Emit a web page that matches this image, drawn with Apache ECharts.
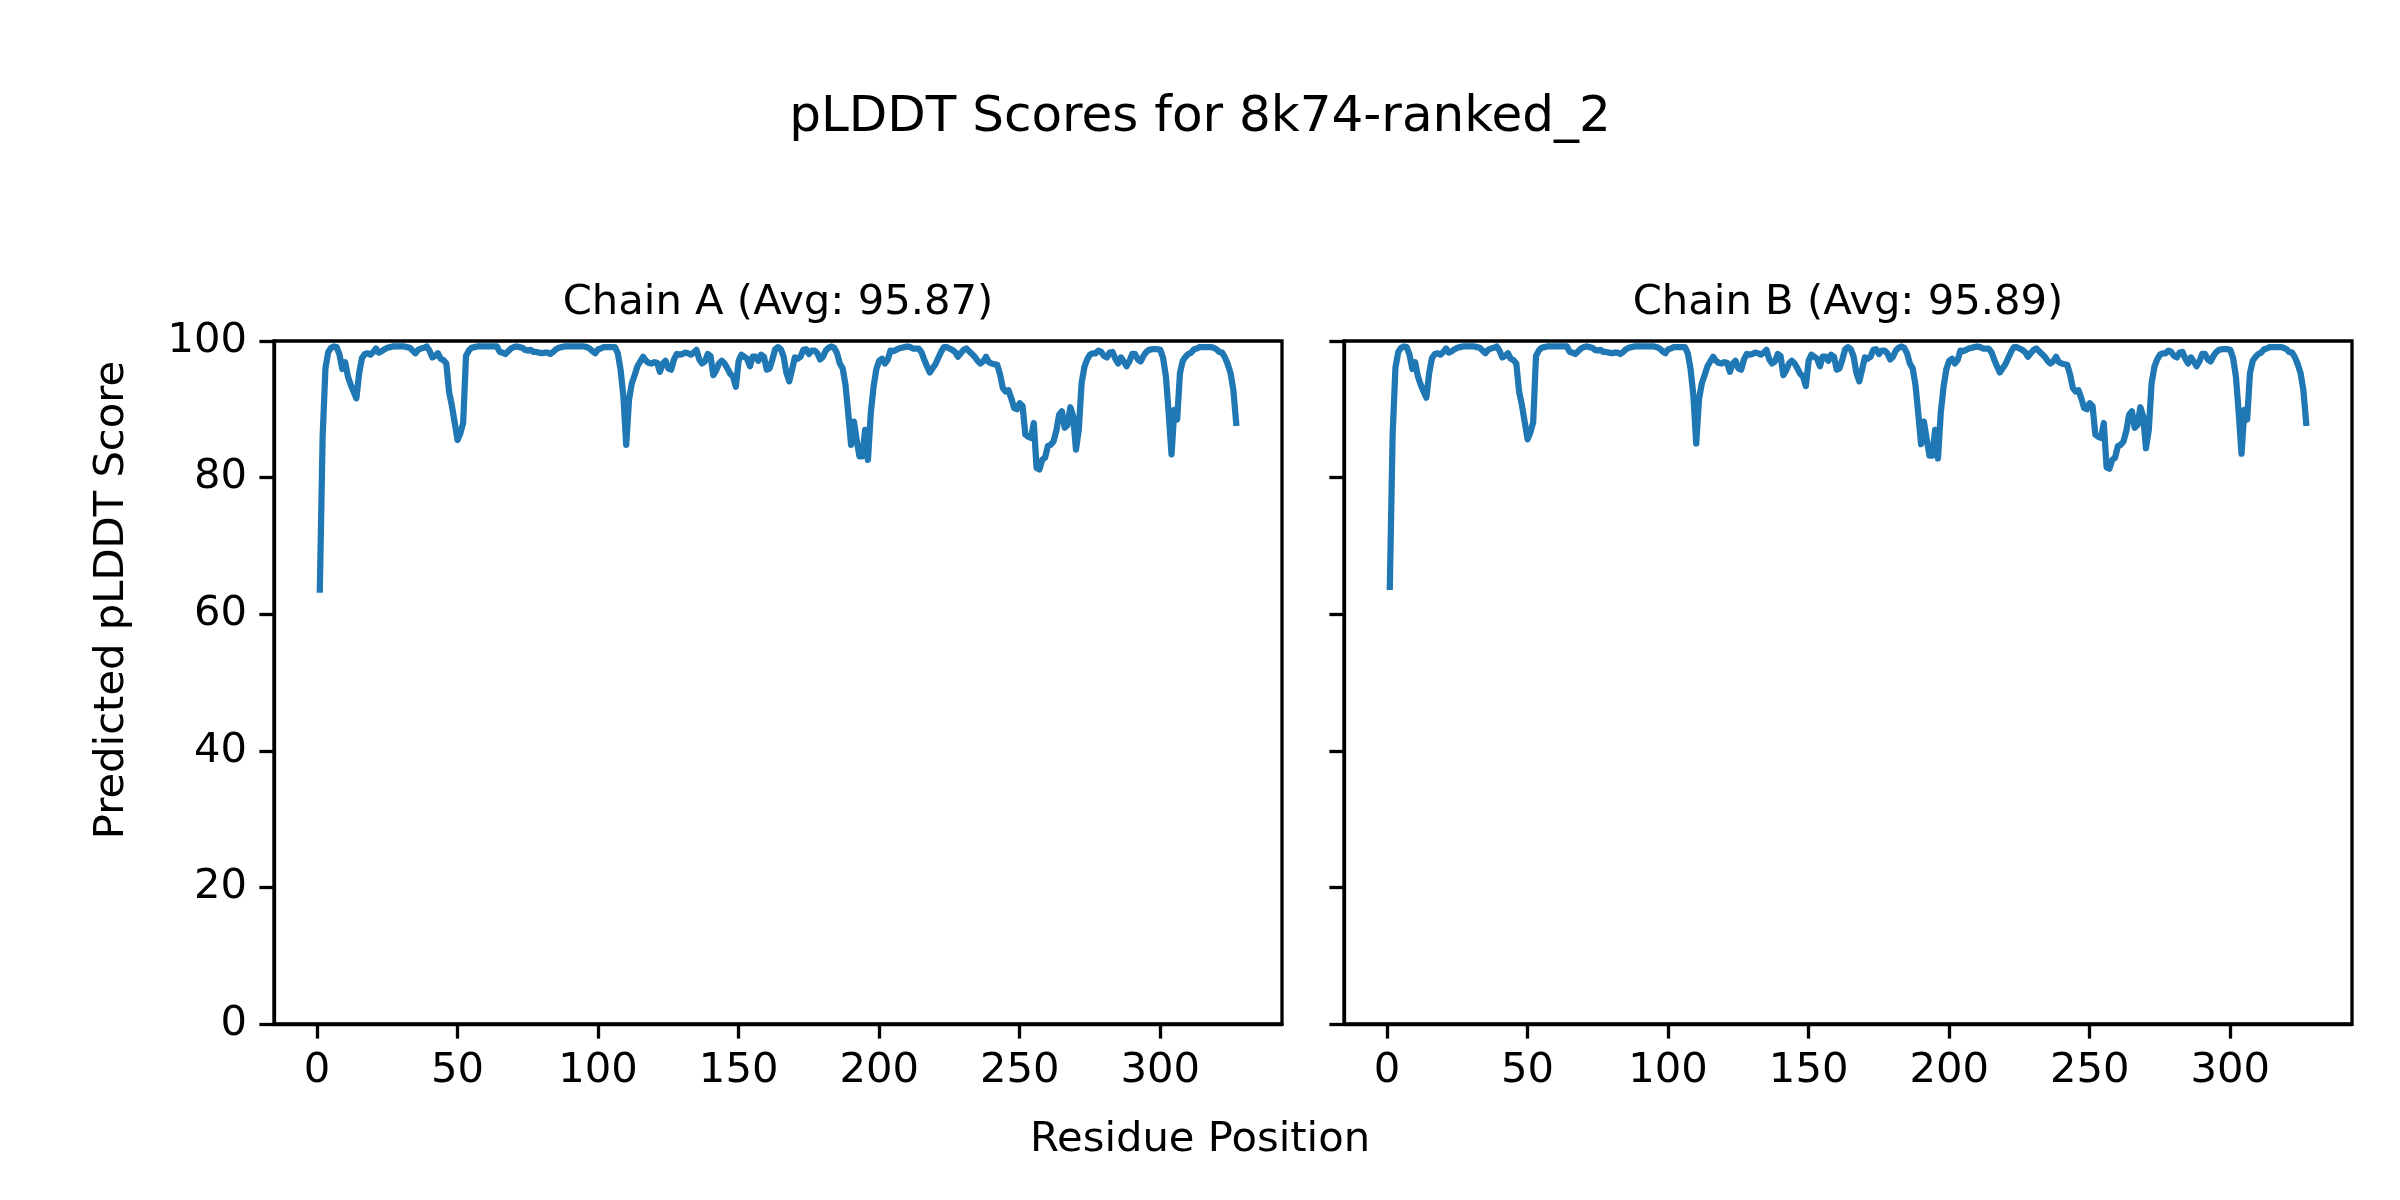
<!DOCTYPE html>
<html>
<head>
<meta charset="utf-8">
<script src="https://cdn.jsdelivr.net/npm/echarts@6/dist/echarts.min.js"></script>
<style>
html,body{margin:0;padding:0;background:#fff;}
#chart{width:2400px;height:1200px;}
</style>
</head>
<body>
<div id="chart"></div>
<script>
// ---- data ----
const chartTitle = 'pLDDT Scores for 8k74-ranked_2';
const chainTitles = ['Chain A (Avg: 95.87)', 'Chain B (Avg: 95.89)'];
const xLabel = 'Residue Position';
const yLabel = 'Predicted pLDDT Score';
const xTicks = [0, 50, 100, 150, 200, 250, 300];
const yTicks = [0, 20, 40, 60, 80, 100];

const chainA = [
 63.6, 86.0, 96.0, 98.4, 99.0, 99.2, 99.1, 98.0, 95.9, 96.9,
 94.8, 93.6, 92.6, 91.6, 95.3, 97.5, 98.1, 98.2, 98.0, 98.4,
 98.9, 98.3, 98.5, 98.8, 99.0, 99.1, 99.2, 99.2, 99.2, 99.2,
 99.2, 99.1, 99.0, 98.6, 98.2, 98.7, 98.9, 99.0, 99.2, 98.6,
 97.6, 97.8, 98.2, 97.4, 97.2, 96.7, 92.5, 90.5, 88.0, 85.5,
 86.5, 88.0, 97.8, 98.6, 99.0, 99.1, 99.2, 99.2, 99.2, 99.2,
 99.2, 99.2, 99.2, 99.2, 98.4, 98.3, 98.1, 98.5, 98.9, 99.1,
 99.2, 99.1, 99.0, 98.7, 98.6, 98.7, 98.4, 98.4, 98.3, 98.2,
 98.3, 98.3, 98.1, 98.4, 98.8, 99.0, 99.1, 99.2, 99.2, 99.2,
 99.2, 99.2, 99.2, 99.2, 99.2, 99.1, 98.9, 98.5, 98.2, 98.8,
 98.9, 99.1, 99.1, 99.1, 99.1, 99.1, 98.2, 95.8, 91.9, 84.8,
 91.4, 93.8, 95.0, 96.3, 97.0, 97.7, 97.1, 96.8, 96.7, 96.9,
 96.8, 95.5, 96.7, 97.1, 96.0, 95.8, 97.3, 98.1, 98.0, 98.1,
 98.3, 98.2, 98.0, 98.3, 98.7, 97.3, 96.7, 97.0, 98.1, 97.8,
 95.0, 95.7, 96.7, 97.1, 96.7, 96.0, 95.2, 94.8, 93.3, 97.1,
 98.0, 97.7, 97.4, 96.3, 97.7, 97.7, 97.1, 98.0, 97.7, 95.8,
 96.0, 97.3, 98.8, 99.1, 98.8, 97.7, 95.3, 94.1, 95.8, 97.6,
 97.4, 97.7, 98.7, 98.8, 98.1, 98.6, 98.6, 98.2, 97.3, 97.7,
 98.6, 99.0, 99.2, 99.0, 98.2, 96.7, 96.0, 93.6, 89.4, 84.8,
 88.2, 85.5, 83.1, 83.1, 87.0, 82.6, 89.4, 93.3, 95.9, 97.1,
 97.4, 96.7, 97.2, 98.6, 98.5, 98.7, 98.9, 99.0, 99.1, 99.2,
 99.1, 98.9, 98.9, 98.9, 98.4, 97.3, 96.3, 95.4, 96.0, 96.6,
 97.5, 98.4, 99.1, 99.1, 98.9, 98.7, 98.4, 97.7, 98.2, 98.7,
 98.9, 98.5, 98.1, 97.7, 97.1, 96.7, 97.0, 97.7, 96.9, 96.7,
 96.6, 96.5, 95.1, 93.1, 92.6, 92.8, 91.6, 90.2, 90.0, 90.9,
 90.5, 86.3, 86.0, 85.8, 88.0, 81.4, 81.2, 82.6, 82.9, 84.6,
 84.8, 85.3, 86.8, 89.2, 89.7, 87.3, 87.7, 90.3, 89.0, 84.1,
 87.0, 93.8, 96.2, 97.3, 98.0, 98.2, 98.2, 98.6, 98.4, 97.8,
 97.6, 98.3, 98.4, 97.4, 96.7, 97.6, 97.0, 96.3, 97.0, 98.1,
 98.1, 97.3, 97.0, 97.8, 98.4, 98.7, 98.8, 98.8, 98.8, 98.7,
 97.5, 94.8, 89.4, 83.4, 89.9, 88.5, 95.3, 97.1, 97.7, 98.1,
 98.3, 98.8, 98.9, 99.1, 99.1, 99.1, 99.1, 99.1, 99.0, 98.8,
 98.4, 98.3, 97.6, 96.6, 95.3, 92.8, 88.0
];

const chainB = [
 64.0, 86.3, 96.1, 98.4, 99.0, 99.2, 99.1, 98.0, 95.9, 96.9,
 94.8, 93.6, 92.6, 91.7, 95.3, 97.5, 98.1, 98.2, 98.0, 98.4,
 98.9, 98.3, 98.5, 98.8, 99.0, 99.1, 99.2, 99.2, 99.2, 99.2,
 99.2, 99.1, 99.0, 98.6, 98.2, 98.7, 98.9, 99.0, 99.2, 98.6,
 97.6, 97.8, 98.2, 97.4, 97.2, 96.7, 92.6, 90.6, 88.1, 85.6,
 86.6, 88.1, 97.8, 98.6, 99.0, 99.1, 99.2, 99.2, 99.2, 99.2,
 99.2, 99.2, 99.2, 99.2, 98.4, 98.3, 98.1, 98.5, 98.9, 99.1,
 99.2, 99.1, 99.0, 98.7, 98.6, 98.7, 98.4, 98.4, 98.3, 98.2,
 98.3, 98.3, 98.1, 98.4, 98.8, 99.0, 99.1, 99.2, 99.2, 99.2,
 99.2, 99.2, 99.2, 99.2, 99.2, 99.1, 98.9, 98.5, 98.2, 98.8,
 98.9, 99.1, 99.1, 99.1, 99.1, 99.1, 98.2, 95.9, 92.0, 85.0,
 91.5, 93.8, 95.0, 96.3, 97.0, 97.7, 97.1, 96.8, 96.7, 96.9,
 96.8, 95.5, 96.7, 97.1, 96.0, 95.8, 97.3, 98.1, 98.0, 98.1,
 98.3, 98.2, 98.0, 98.3, 98.7, 97.3, 96.7, 97.0, 98.1, 97.8,
 95.0, 95.7, 96.7, 97.1, 96.7, 96.0, 95.2, 94.8, 93.4, 97.1,
 98.0, 97.7, 97.4, 96.3, 97.7, 97.7, 97.1, 98.0, 97.7, 95.8,
 96.0, 97.3, 98.8, 99.1, 98.8, 97.7, 95.3, 94.1, 95.8, 97.6,
 97.4, 97.7, 98.7, 98.8, 98.1, 98.6, 98.6, 98.2, 97.3, 97.7,
 98.6, 99.0, 99.2, 99.0, 98.2, 96.7, 96.0, 93.6, 89.4, 84.9,
 88.2, 85.6, 83.2, 83.2, 87.0, 82.8, 89.5, 93.3, 95.9, 97.1,
 97.4, 96.7, 97.2, 98.6, 98.5, 98.7, 98.9, 99.0, 99.1, 99.2,
 99.1, 98.9, 98.9, 98.9, 98.4, 97.3, 96.3, 95.4, 96.0, 96.6,
 97.5, 98.4, 99.1, 99.1, 98.9, 98.7, 98.4, 97.7, 98.2, 98.7,
 98.9, 98.5, 98.1, 97.7, 97.1, 96.7, 97.0, 97.7, 96.9, 96.7,
 96.6, 96.5, 95.1, 93.1, 92.6, 92.8, 91.6, 90.2, 90.0, 90.9,
 90.5, 86.3, 86.0, 85.8, 88.0, 81.5, 81.3, 82.6, 82.9, 84.6,
 84.8, 85.3, 86.8, 89.2, 89.7, 87.3, 87.7, 90.3, 89.0, 84.3,
 87.0, 93.8, 96.2, 97.3, 98.0, 98.2, 98.2, 98.6, 98.4, 97.8,
 97.6, 98.3, 98.4, 97.4, 96.7, 97.6, 97.0, 96.3, 97.0, 98.1,
 98.1, 97.3, 97.0, 97.8, 98.4, 98.7, 98.8, 98.8, 98.8, 98.7,
 97.5, 94.8, 89.5, 83.5, 89.9, 88.5, 95.3, 97.1, 97.7, 98.1,
 98.3, 98.8, 98.9, 99.1, 99.1, 99.1, 99.1, 99.1, 99.0, 98.8,
 98.4, 98.3, 97.6, 96.6, 95.3, 92.8, 88.0
];

// ---- layout / style ----
const FONT = 'DejaVu Sans';
const TICK_FS = 41.7;
const SPINE_W = 3.3;
const LINE_COLOR = '#1f77b4';
const grids = [
  {left: 274, top: 341, width: 1008, height: 683},
  {left: 1344, top: 341, width: 1008, height: 683}
];
const xMin = -15.3, xMax = 343.3;

function toPoints(vals){ return vals.map((v, i) => [i + 1, v]); }

const chart = echarts.init(document.getElementById('chart'), null, {renderer: 'canvas'});

const option = {
  animation: false,
  backgroundColor: '#ffffff',
  grid: grids.map(g => Object.assign({show: true, borderColor: '#000', borderWidth: SPINE_W, backgroundColor: 'transparent', containLabel: false}, g)),
  xAxis: grids.map((g, i) => ({
    type: 'value', gridIndex: i, min: xMin, max: xMax,
    axisLine: {show: true, onZero: false, lineStyle: {color: '#000', width: SPINE_W}},
    axisTick: {show: true, inside: false, length: 14.6, customValues: xTicks, lineStyle: {color: '#000', width: SPINE_W}},
    axisLabel: {show: true, customValues: xTicks, margin: 26, fontSize: TICK_FS, fontFamily: FONT, color: '#000'},
    splitLine: {show: false}
  })),
  yAxis: grids.map((g, i) => ({
    type: 'value', gridIndex: i, min: 0, max: 100, interval: 20,
    axisLine: {show: true, onZero: false, lineStyle: {color: '#000', width: SPINE_W}},
    axisTick: {show: true, inside: false, length: 14.6, lineStyle: {color: '#000', width: SPINE_W}},
    axisLabel: {show: i === 0, margin: 27, fontSize: TICK_FS, fontFamily: FONT, color: '#000'},
    splitLine: {show: false}
  })),
  series: [chainA, chainB].map((vals, i) => ({
    type: 'line', xAxisIndex: i, yAxisIndex: i,
    data: toPoints(vals),
    showSymbol: false, symbol: 'none',
    lineStyle: {color: LINE_COLOR, width: 6.25, cap: 'square', join: 'round'},
    emphasis: {disabled: true}
  })),
  graphic: [
    {type: 'text', x: 1200, y: 118, style: {text: chartTitle, font: '50px "DejaVu Sans"', fill: '#000', textAlign: 'center', textVerticalAlign: 'middle'}},
    {type: 'text', x: grids[0].left + grids[0].width / 2, y: 303, style: {text: chainTitles[0], font: '41.7px "DejaVu Sans"', fill: '#000', textAlign: 'center', textVerticalAlign: 'middle'}},
    {type: 'text', x: grids[1].left + grids[1].width / 2, y: 303, style: {text: chainTitles[1], font: '41.7px "DejaVu Sans"', fill: '#000', textAlign: 'center', textVerticalAlign: 'middle'}},
    {type: 'text', x: 1200, y: 1140, style: {text: xLabel, font: '41.7px "DejaVu Sans"', fill: '#000', textAlign: 'center', textVerticalAlign: 'middle'}},
    {type: 'text', x: 112, y: 600, rotation: Math.PI / 2, style: {text: yLabel, font: '41.7px "DejaVu Sans"', fill: '#000', textAlign: 'center', textVerticalAlign: 'middle'}}
  ]
};
chart.setOption(option);
</script>
</body>
</html>
